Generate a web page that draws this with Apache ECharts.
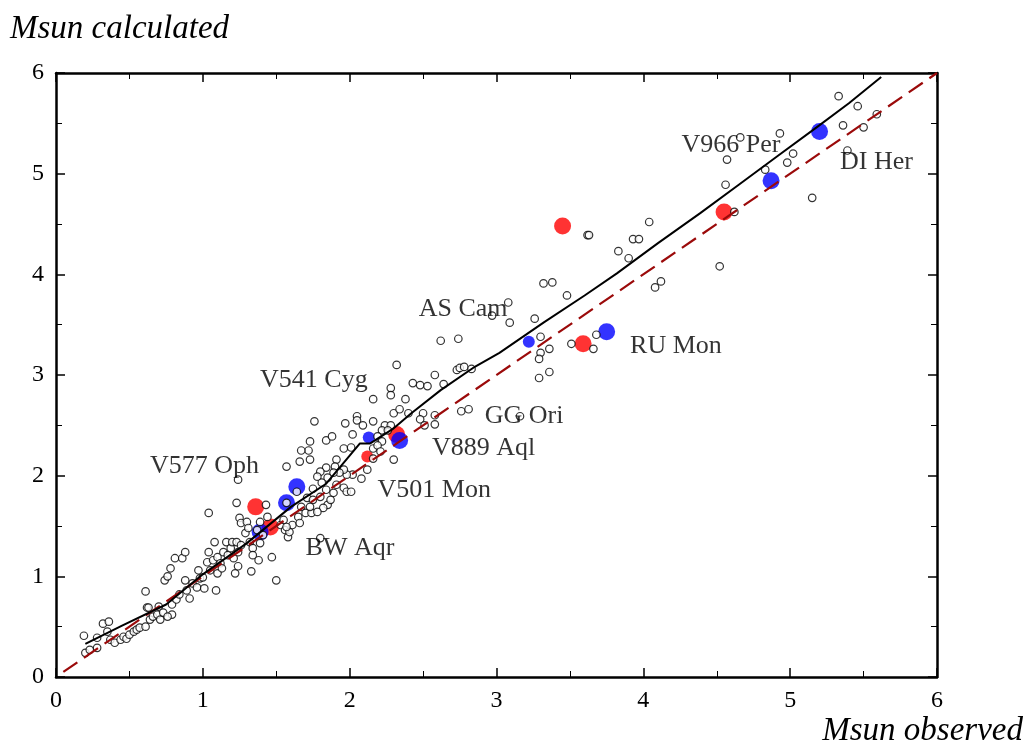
<!DOCTYPE html>
<html>
<head>
<meta charset="utf-8">
<title>Msun observed vs calculated</title>
<script src="https://cdn.jsdelivr.net/npm/echarts@6/dist/echarts.min.js"></script>
<style>
  html, body { margin: 0; padding: 0; background: #fff; }
  #chart { width: 1031px; height: 746px; }
</style>
</head>
<body>
<div id="chart"></div>
<script>
// small open circles: [Msun observed, Msun calculated]
var stars = [
  [0.19,0.41],[0.20,0.24],[0.23,0.27],[0.28,0.29],[0.28,0.39],[0.32,0.53],[0.36,0.55],[0.35,0.45],
  [0.37,0.37],[0.40,0.34],[0.44,0.37],[0.46,0.40],[0.48,0.38],[0.50,0.42],[0.53,0.45],[0.55,0.47],
  [0.57,0.49],[0.61,0.50],[0.62,0.69],[0.63,0.69],[0.61,0.85],[0.64,0.57],[0.66,0.60],[0.69,0.62],
  [0.70,0.70],[0.71,0.57],[0.73,0.64],[0.74,0.96],[0.76,1.00],[0.78,1.08],[0.79,0.62],[0.76,0.60],
  [0.79,0.72],[0.81,1.18],[0.82,0.77],[0.84,0.82],[0.86,1.18],[0.88,1.24],[0.88,0.96],[0.89,0.86],
  [0.91,0.78],[0.93,0.93],[0.96,0.89],[0.97,1.06],[0.98,0.98],[1.00,0.99],[1.01,0.88],[1.03,1.14],
  [1.04,1.24],[1.04,1.63],[1.05,1.06],[1.07,1.16],[1.08,1.34],[1.09,0.86],[1.10,1.19],[1.10,1.03],
  [1.12,1.13],[1.13,1.08],[1.14,1.24],[1.16,1.34],[1.17,1.21],[1.19,1.28],[1.20,1.34],[1.21,1.18],
  [1.22,1.03],[1.23,1.73],[1.24,1.96],[1.23,1.34],[1.24,1.24],[1.24,1.10],[1.25,1.58],[1.26,1.53],
  [1.26,1.31],[1.29,1.43],[1.30,1.54],[1.31,1.48],[1.32,1.34],[1.33,1.05],[1.34,1.28],[1.34,1.21],
  [1.37,1.46],[1.38,1.16],[1.39,1.33],[1.39,1.54],[1.41,1.41],[1.43,1.71],[1.44,1.59],[1.47,1.19],
  [1.50,0.96],[1.53,1.51],[1.55,1.56],[1.56,1.46],[1.58,1.39],[1.57,1.73],[1.61,1.51],[1.64,1.84],
  [1.65,1.59],[1.67,1.69],[1.70,1.63],[1.71,1.78],
  [2.32,3.10],[2.58,3.00],[2.43,2.92],[2.48,2.90],[2.53,2.89],[2.28,2.87],[2.28,2.80],[2.16,2.76],
  [2.38,2.76],[2.30,2.62],[2.34,2.66],[2.40,2.62],[2.50,2.62],[2.58,2.60],[2.48,2.56],[2.51,2.50],
  [1.76,2.54],[1.97,2.52],[2.05,2.59],[2.05,2.55],[2.09,2.50],[2.16,2.54],[2.24,2.50],[2.28,2.50],
  [2.22,2.45],[2.26,2.45],[2.19,2.39],[2.22,2.34],[1.84,2.35],[1.88,2.39],[2.02,2.41],[1.96,2.27],
  [2.01,2.28],[1.73,2.34],[2.16,2.27],[2.19,2.30],[2.21,2.24],[2.16,2.17],[2.30,2.16],[2.12,2.06],
  [2.08,1.97],[2.02,2.01],[1.98,2.01],[1.96,2.06],[1.91,2.16],[1.90,2.09],[1.93,2.03],[1.89,2.03],
  [1.84,2.08],[1.85,1.98],[1.80,2.04],[1.78,1.99],[1.73,2.16],[1.66,2.14],[1.72,2.25],[1.67,2.25],
  [1.57,2.09],
  [1.75,1.87],[1.81,1.93],[1.84,1.86],[1.80,1.79],[1.75,1.76],[1.85,1.71],[1.82,1.68],[1.87,1.76],
  [1.89,1.83],[1.96,1.88],[1.98,1.84],[2.01,1.84],[1.91,1.91],[1.74,1.63],[1.73,1.69],[1.78,1.64],
  [1.80,1.38],[1.59,1.44],[1.57,1.49],[1.66,1.53],
  [3.32,3.91],[3.38,3.92],[3.08,3.72],[2.97,3.59],[3.09,3.52],[3.26,3.56],[3.30,3.38],[3.36,3.26],
  [3.30,3.22],[3.29,3.16],[3.36,3.03],[3.29,2.97],[2.62,3.34],[2.74,3.36],[2.73,3.05],[2.75,3.07],
  [2.78,3.08],[2.83,3.06],[2.64,2.91],[2.76,2.64],[2.81,2.66],[2.58,2.51],[3.16,2.59],
  [5.33,5.77],[5.46,5.67],[5.59,5.59],[5.36,5.48],[5.50,5.46],[4.93,5.40],[4.66,5.36],[5.39,5.23],
  [5.02,5.20],[4.98,5.11],[4.57,5.14],[4.83,5.04],[4.56,4.89],[5.15,4.76],[4.62,4.62],[4.04,4.52],
  [3.62,4.39],[3.63,4.39],[3.93,4.35],[3.97,4.35],[3.83,4.23],[3.90,4.16],[4.52,4.08],[4.12,3.93],
  [4.08,3.87],[3.48,3.79],[3.68,3.40],[3.51,3.31],[3.66,3.26]
];

// highlighted binaries
var redBig = [[1.36,1.69],[3.45,4.48],[3.59,3.31],[4.55,4.62],[2.32,2.41],[1.46,1.49]];
var redSmall = [[2.12,2.19]];
var blueBig = [[2.34,2.35],[1.64,1.89],[1.57,1.73],[1.39,1.44],[3.75,3.43],[4.87,4.93],[5.20,5.42]];
var blueSmall = [[2.13,2.38],[3.22,3.33]];

// fitted relation (solid) and the one-to-one line (dashed)
var fitLine = [
  [0.20,0.33],[0.45,0.51],[0.75,0.72],[1.00,1.02],[1.30,1.33],[1.60,1.69],[1.84,1.92],[2.00,2.20],
  [2.07,2.32],[2.14,2.32],[2.30,2.47],[2.42,2.62],[2.62,2.85],[2.84,3.07],[3.02,3.22],[3.32,3.52],
  [3.60,3.79],[3.82,4.01],[4.10,4.31],[4.39,4.61],[4.65,4.89],[4.91,5.17],[5.18,5.46],[5.40,5.70],[5.62,5.96]
];
var oneToOne = [[0.05,0.05],[6,6]];

// star names: [x, y, name]
var names = [
  [4.26,5.28,'V966 Per'],[5.34,5.11,'DI Her'],[2.47,3.65,'AS Cam'],[3.91,3.29,'RU Mon'],
  [1.39,2.95,'V541 Cyg'],[2.92,2.59,'GG Ori'],[2.56,2.27,'V889 Aql'],[0.64,2.09,'V577 Oph'],
  [2.19,1.86,'V501 Mon'],[1.70,1.28,'BW Aqr']
];

var serif = 'Liberation Serif, Times New Roman, serif';
var chart = echarts.init(document.getElementById('chart'));

// one side of the boxed frame, ticks pointing inward
function frameAxis(pos, showLabel) {
  return {
    type: 'value', min: 0, max: 6, interval: 1, position: pos,
    axisLine: { show: true, onZero: false, lineStyle: { color: '#000', width: 2.5 } },
    axisTick: { show: true, inside: true, length: 9, lineStyle: { color: '#000', width: 1.5 } },
    minorTick: { show: true, splitNumber: 2, length: 6, lineStyle: { color: '#000', width: 1 } },
    axisLabel: { show: showLabel, color: '#000', fontFamily: serif, fontSize: 24, margin: 12 },
    splitLine: { show: false }
  };
}

var option = {
  animation: false,
  backgroundColor: '#fff',
  textStyle: { fontFamily: serif },
  title: [
    { text: 'Msun calculated', left: 5, top: 8,
      textStyle: { fontFamily: serif, fontStyle: 'italic', fontWeight: 'normal', fontSize: 33, color: '#000' } },
    { text: 'Msun observed', right: 3, top: 710,
      textStyle: { fontFamily: serif, fontStyle: 'italic', fontWeight: 'normal', fontSize: 33, color: '#000' } }
  ],
  grid: { left: 56, right: 94, top: 73, bottom: 69 },
  xAxis: [frameAxis('bottom', true), frameAxis('top', false)],
  yAxis: [frameAxis('left', true), frameAxis('right', false)],
  series: [
    { type: 'line', data: oneToOne, symbol: 'none', silent: true,
      lineStyle: { color: '#9b0a0a', width: 2.2, type: [17, 8] } },
    { type: 'line', data: fitLine, symbol: 'none', silent: true,
      lineStyle: { color: '#000', width: 2 } },
    { type: 'scatter', data: redBig, symbol: 'circle', symbolSize: 17, itemStyle: { color: '#ff0000' } },
    { type: 'scatter', data: redSmall, symbol: 'circle', symbolSize: 12, itemStyle: { color: '#ff0000' } },
    { type: 'scatter', data: blueBig, symbol: 'circle', symbolSize: 17, itemStyle: { color: '#0000ff' } },
    { type: 'scatter', data: blueSmall, symbol: 'circle', symbolSize: 12, itemStyle: { color: '#0000ff' } },
    { type: 'scatter', data: stars, symbol: 'circle', symbolSize: 7.5,
      itemStyle: { color: '#fff', borderColor: '#000', borderWidth: 1.2 } },
    { type: 'scatter', data: names, symbolSize: 0, silent: true,
      label: { show: true, position: 'right', distance: 0, formatter: function (p) { return p.data[2]; },
        fontFamily: serif, fontSize: 26, color: '#000' } }
  ]
};

chart.setOption(option);
</script>
</body>
</html>
